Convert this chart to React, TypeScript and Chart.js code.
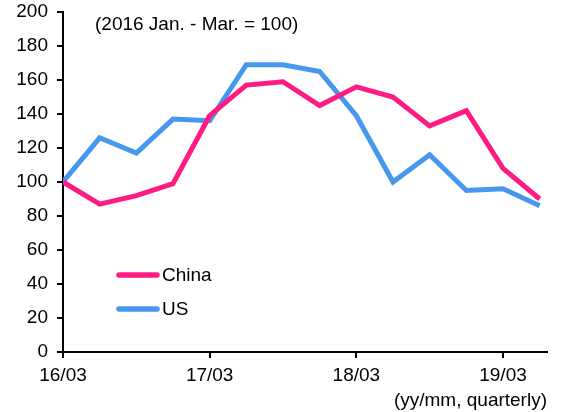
import React, { useEffect, useRef } from "react";
import { Chart, registerables } from "chart.js";

Chart.register(...registerables);

const quarters = [
  "16/03", "16/06", "16/09", "16/12",
  "17/03", "17/06", "17/09", "17/12",
  "18/03", "18/06", "18/09", "18/12",
  "19/03", "19/06",
];
const chinaValues = [100, 87, 92, 99, 139, 157, 159, 145, 156, 150, 133, 142, 108, 90];
const usValues = [100, 126, 117, 137, 136, 169, 169, 165, 139, 100, 116, 95, 96, 86];
const xTickLabels = ["16/03", "17/03", "18/03", "19/03"];
const yTicks = [0, 20, 40, 60, 80, 100, 120, 140, 160, 180, 200];
const noteText = "(2016 Jan. - Mar. = 100)";
const xAxisTitle = "(yy/mm, quarterly)";

const FONT = "'Liberation Sans', Arial, sans-serif";
const PINK = "#FF1C82";
const BLUE = "#4598EE";

const overlayPlugin = {
  id: "overlay",
  afterDraw(chart: any) {
    const { ctx, chartArea } = chart;
    ctx.save();
    ctx.font = `19px ${FONT}`;
    ctx.fillStyle = "#000";
    ctx.textBaseline = "middle";
    ctx.textAlign = "left";
    ctx.fillText(noteText, chartArea.left + 32, chartArea.top + 13);
    chart.data.datasets.forEach((ds: any, i: number) => {
      const y = chartArea.top + 263 + i * 34;
      const x0 = chartArea.left + 56;
      ctx.strokeStyle = ds.borderColor;
      ctx.lineWidth = 5.5;
      ctx.lineCap = "round";
      ctx.beginPath();
      ctx.moveTo(x0, y);
      ctx.lineTo(x0 + 38, y);
      ctx.stroke();
      ctx.fillStyle = "#000";
      ctx.fillText(ds.label, x0 + 43, y + 1);
    });
    ctx.restore();
  },
};

export default function App() {
  const ref = useRef<HTMLCanvasElement>(null);
  useEffect(() => {
    if (!ref.current) return;
    const chart = new Chart(ref.current, {
      type: "line",
      data: {
        datasets: [
          {
            label: "China",
            data: chinaValues.map((v, i) => ({ x: i, y: v })),
            borderColor: PINK,
            backgroundColor: PINK,
            borderWidth: 5,
            pointRadius: 0,
            tension: 0,
          },
          {
            label: "US",
            data: usValues.map((v, i) => ({ x: i, y: v })),
            borderColor: BLUE,
            backgroundColor: BLUE,
            borderWidth: 5,
            pointRadius: 0,
            tension: 0,
          },
        ],
      },
      options: {
        animation: false,
        responsive: false,
        maintainAspectRatio: false,
        layout: { padding: { top: 12, right: 14, left: 0, bottom: 0 } },
        plugins: { legend: { display: false }, tooltip: { enabled: false } },
        scales: {
          x: {
            type: "linear",
            min: 0,
            max: 13.2,
            afterBuildTicks: (s: any) => {
              s.ticks = xTickLabels.map((l) => ({ value: quarters.indexOf(l) }));
            },
            afterFit: (s: any) => {
              s.height = 60;
              s.paddingLeft = 0;
              s.paddingRight = 0;
            },
            grid: {
              drawOnChartArea: false,
              drawTicks: true,
              tickLength: 6,
              color: "#000",
              lineWidth: 2,
            },
            border: { display: true, color: "#000", width: 2 },
            ticks: {
              autoSkip: false,
              maxRotation: 0,
              padding: 6,
              color: "#000",
              font: { family: FONT, size: 19 },
              callback: (v: any) => quarters[v as number],
            },
            title: {
              display: true,
              text: xAxisTitle,
              align: "end",
              color: "#000",
              font: { family: FONT, size: 19 },
              padding: { top: 0, bottom: 0 },
            },
          },
          y: {
            min: 0,
            max: 200,
            afterBuildTicks: (s: any) => {
              s.ticks = yTicks.map((v) => ({ value: v }));
            },
            afterFit: (s: any) => {
              s.width = 63;
              s.paddingTop = 0;
              s.paddingBottom = 0;
            },
            grid: {
              drawOnChartArea: false,
              drawTicks: true,
              tickLength: 6,
              color: "#000",
              lineWidth: 2,
            },
            border: { display: true, color: "#000", width: 2 },
            ticks: {
              padding: 9,
              color: "#000",
              font: { family: FONT, size: 19 },
            },
          },
        },
      },
      plugins: [overlayPlugin],
    } as any);
    return () => chart.destroy();
  }, []);
  return (
    <div style={{ position: "fixed", left: 0, top: 0, width: 561, height: 412, background: "#fff" }}>
      <canvas ref={ref} width={561} height={412} style={{ display: "block" }} />
    </div>
  );
}
